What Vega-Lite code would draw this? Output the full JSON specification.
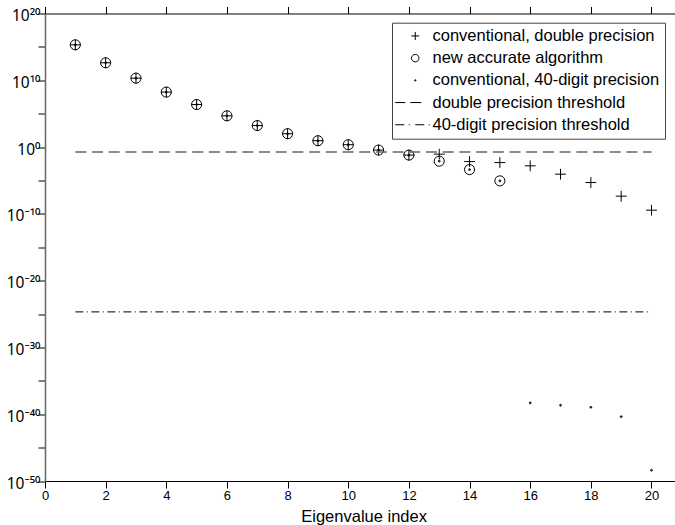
{
  "$schema": "https://vega.github.io/schema/vega-lite/v6.json",
  "width": 630,
  "height": 467.5,
  "padding": {"left": 0, "top": 5.5, "right": 0, "bottom": 0},
  "autosize": {"type": "pad"},
  "background": "white",
  "config": {
    "view": {"stroke": null},
    "font": "Liberation Sans",
    "axis": {"grid": false, "domainColor": "black", "tickColor": "black", "labelColor": "black", "titleColor": "black", "labelFont": "Liberation Sans", "titleFont": "Liberation Sans", "titleFontWeight": "normal", "domainWidth": 1, "tickWidth": 1, "labelOverlap": false, "labelFlush": false}
  },
  "datasets": {
    "points": [
      {"x": 1, "value": 2.04e15, "series": "conventional, double precision"},
      {"x": 2, "value": 4.17e12, "series": "conventional, double precision"},
      {"x": 3, "value": 2.09e10, "series": "conventional, double precision"},
      {"x": 4, "value": 1.70e8, "series": "conventional, double precision"},
      {"x": 5, "value": 2.34e6, "series": "conventional, double precision"},
      {"x": 6, "value": 4.79e4, "series": "conventional, double precision"},
      {"x": 7, "value": 1.66e3, "series": "conventional, double precision"},
      {"x": 8, "value": 100, "series": "conventional, double precision"},
      {"x": 9, "value": 8.91, "series": "conventional, double precision"},
      {"x": 10, "value": 2.24, "series": "conventional, double precision"},
      {"x": 11, "value": 0.355, "series": "conventional, double precision"},
      {"x": 12, "value": 0.0631, "series": "conventional, double precision"},
      {"x": 13, "value": 0.0871, "series": "conventional, double precision"},
      {"x": 14, "value": 6.76e-3, "series": "conventional, double precision"},
      {"x": 15, "value": 4.79e-3, "series": "conventional, double precision"},
      {"x": 16, "value": 1.55e-3, "series": "conventional, double precision"},
      {"x": 17, "value": 8.71e-5, "series": "conventional, double precision"},
      {"x": 18, "value": 4.90e-6, "series": "conventional, double precision"},
      {"x": 19, "value": 4.47e-8, "series": "conventional, double precision"},
      {"x": 20, "value": 3.55e-10, "series": "conventional, double precision"},
      {"x": 1, "value": 2.04e15, "series": "new accurate algorithm"},
      {"x": 2, "value": 4.17e12, "series": "new accurate algorithm"},
      {"x": 3, "value": 2.09e10, "series": "new accurate algorithm"},
      {"x": 4, "value": 1.70e8, "series": "new accurate algorithm"},
      {"x": 5, "value": 2.34e6, "series": "new accurate algorithm"},
      {"x": 6, "value": 4.79e4, "series": "new accurate algorithm"},
      {"x": 7, "value": 1.66e3, "series": "new accurate algorithm"},
      {"x": 8, "value": 100, "series": "new accurate algorithm"},
      {"x": 9, "value": 8.91, "series": "new accurate algorithm"},
      {"x": 10, "value": 2.24, "series": "new accurate algorithm"},
      {"x": 11, "value": 0.355, "series": "new accurate algorithm"},
      {"x": 12, "value": 0.0631, "series": "new accurate algorithm"},
      {"x": 13, "value": 7.76e-3, "series": "new accurate algorithm"},
      {"x": 14, "value": 4.27e-4, "series": "new accurate algorithm"},
      {"x": 15, "value": 8.71e-6, "series": "new accurate algorithm"},
      {"x": 1, "value": 2.04e15, "series": "conventional, 40-digit precision"},
      {"x": 2, "value": 4.17e12, "series": "conventional, 40-digit precision"},
      {"x": 3, "value": 2.09e10, "series": "conventional, 40-digit precision"},
      {"x": 4, "value": 1.70e8, "series": "conventional, 40-digit precision"},
      {"x": 5, "value": 2.34e6, "series": "conventional, 40-digit precision"},
      {"x": 6, "value": 4.79e4, "series": "conventional, 40-digit precision"},
      {"x": 7, "value": 1.66e3, "series": "conventional, 40-digit precision"},
      {"x": 8, "value": 100, "series": "conventional, 40-digit precision"},
      {"x": 9, "value": 8.91, "series": "conventional, 40-digit precision"},
      {"x": 10, "value": 2.24, "series": "conventional, 40-digit precision"},
      {"x": 11, "value": 0.355, "series": "conventional, 40-digit precision"},
      {"x": 12, "value": 0.0631, "series": "conventional, 40-digit precision"},
      {"x": 13, "value": 7.76e-3, "series": "conventional, 40-digit precision"},
      {"x": 14, "value": 4.27e-4, "series": "conventional, 40-digit precision"},
      {"x": 15, "value": 8.71e-6, "series": "conventional, 40-digit precision"},
      {"x": 16, "value": 4.90e-39, "series": "conventional, 40-digit precision"},
      {"x": 17, "value": 2.19e-39, "series": "conventional, 40-digit precision"},
      {"x": 18, "value": 1.10e-39, "series": "conventional, 40-digit precision"},
      {"x": 19, "value": 4.27e-41, "series": "conventional, 40-digit precision"},
      {"x": 20, "value": 4.07e-49, "series": "conventional, 40-digit precision"}
    ]
  },
  "encoding": {
    "y": {
      "field": "value", "type": "quantitative",
      "scale": {"type": "log", "domain": [1e-50, 1e20], "nice": false},
      "axis": {
        "values": [1e20, 1e15, 1e10, 1e5, 1, 1e-5, 1e-10, 1e-15, 1e-20, 1e-25, 1e-30, 1e-35, 1e-40, 1e-45, 1e-50],
        "labelExpr": "round(log(datum.value)/LN10) == 20 ? '10²⁰' : round(log(datum.value)/LN10) == 10 ? '10¹⁰' : round(log(datum.value)/LN10) == 0 ? '10⁰' : round(log(datum.value)/LN10) == -10 ? '10⁻¹⁰' : round(log(datum.value)/LN10) == -20 ? '10⁻²⁰' : round(log(datum.value)/LN10) == -30 ? '10⁻³⁰' : round(log(datum.value)/LN10) == -40 ? '10⁻⁴⁰' : round(log(datum.value)/LN10) == -50 ? '10⁻⁵⁰' : ''",
        "labelFont": "Noto Sans", "labelFontSize": 15.5, "tickSize": 7, "labelPadding": -2, "labelBaseline": "middle", "labelOffset": 2,
        "minExtent": 45, "maxExtent": 45, "title": null,
        "domainColor": "#666", "domainWidth": 1.5,
        "encode": {"ticks": {"update": {"x2": {"signal": "abs(round(log(datum.value)/LN10) % 10) < 0.5 ? 7 : 4"}}}}
      }
    }
  },
  "layer": [
    {
      "data": {"name": "points"},
      "mark": {"type": "point", "filled": false, "color": "black", "strokeWidth": 1, "size": 182, "opacity": 1},
      "encoding": {
        "x": {
          "field": "x", "type": "quantitative",
          "scale": {"domain": [0, 20.775], "nice": false, "zero": false},
          "axis": {
            "orient": "bottom",
            "values": [0, 2, 4, 6, 8, 10, 12, 14, 16, 18, 20],
            "labelFontSize": 13, "tickSize": 7, "labelPadding": 1,
            "title": "Eigenvalue index", "titleFontSize": 16.5,
            "titleX": 318.6, "titleY": 40, "titleAlign": "center", "titleBaseline": "alphabetic",
            "encode": {"ticks": {"update": {"y2": {"value": -7}}}}
          }
        },
        "shape": {
          "field": "series", "type": "nominal",
          "scale": {
            "domain": ["conventional, double precision", "new accurate algorithm", "conventional, 40-digit precision", "double precision threshold", "40-digit precision threshold"],
            "range": [
              "M-0.8,0H0.8M0,-0.8V0.8",
              "M0.75,0A0.75,0.75,0,1,1,-0.75,0A0.75,0.75,0,1,1,0.75,0Z",
              "M0.14,0A0.14,0.14,0,1,1,-0.14,0A0.14,0.14,0,1,1,0.14,0ZM0.05,0A0.05,0.05,0,1,1,-0.05,0A0.05,0.05,0,1,1,0.05,0Z",
              "M-4,0H-2M-1,0H1.2",
              "M-4,0H-2.2M-1.3,0H-1.1M0,0H1.8M2.7,0H2.9"
            ]
          },
          "legend": {
            "title": null, "orient": "none", "legendX": 347, "legendY": 9.2,
            "padding": 5, "strokeColor": "#444", "fillColor": "white",
            "symbolSize": 100, "symbolStrokeWidth": 1, "symbolStrokeColor": "black",
            "symbolOffset": 10, "labelOffset": 9, "labelFontSize": 16.5, "labelFont": "Liberation Sans", "labelColor": "black",
            "rowPadding": 5.2, "labelLimit": 400
          }
        }
      }
    },
    {
      "data": {"values": [{"series": "double precision threshold", "x": 1, "x2": 20, "value": 0.19}]},
      "mark": {"type": "rule", "color": "#666", "strokeWidth": 1.5, "strokeDash": [11, 5.7]},
      "encoding": {
        "x": {
          "field": "x", "type": "quantitative",
          "scale": {"domain": [0, 20.775], "nice": false, "zero": false},
          "axis": {
            "orient": "top", "values": [0, 2, 4, 6, 8, 10, 12, 14, 16, 18, 20],
            "labels": false, "title": null, "tickSize": 7, "minExtent": 0, "maxExtent": 0,
            "encode": {"ticks": {"update": {"y2": {"value": 7}}}}
          }
        },
        "x2": {"field": "x2"}
      }
    },
    {
      "data": {"values": [{"series": "40-digit precision threshold", "x": 1, "x2": 20, "value": 2.09e-25}]},
      "mark": {"type": "rule", "color": "black", "strokeWidth": 1, "strokeDash": [8, 3.5, 1, 3.5]},
      "encoding": {
        "x": {"field": "x", "type": "quantitative", "scale": {"domain": [0, 20.775], "nice": false, "zero": false}, "axis": null},
        "x2": {"field": "x2"}
      }
    }
  ],
  "resolve": {"axis": {"x": "independent"}}
}
